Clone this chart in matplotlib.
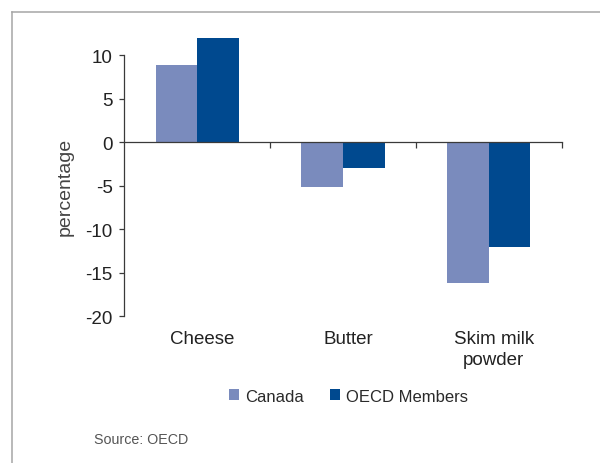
import matplotlib
matplotlib.use("Agg")
import matplotlib.pyplot as plt
from matplotlib.patches import Patch
from matplotlib.lines import Line2D
from matplotlib.transforms import blended_transform_factory
import numpy as np

plt.rcParams['font.family'] = ['Liberation Sans', 'DejaVu Sans']

categories = ["Cheese", "Butter", "Skim milk\npowder"]
series_names = ["Canada", "OECD Members"]
canada = [8.9, -5.1, -16.2]
oecd = [12.0, -3.0, -12.0]
yticks = [-20, -15, -10, -5, 0, 5, 10]

col_canada = "#7A8BBD"
col_oecd = "#00498F"
text_col = "#222222"
spine_col = "#3a3a3a"

W, H = 600, 464
fig = plt.figure(figsize=(W / 100, H / 100), dpi=100)

# axes box in pixel terms
left, right = 124.3, 561.7
top, bottom = 36.3, 317.3
ax = fig.add_axes([left / W, 1 - bottom / H, (right - left) / W, (bottom - top) / H])

x = np.arange(len(categories))
bw = 0.285
ax.bar(x - bw / 2, canada, width=bw, color=col_canada, zorder=1)
ax.bar(x + bw / 2, oecd, width=bw, color=col_oecd, zorder=1)

ax.set_xlim(-0.5, 2.5)
ax.set_ylim(-20, 12.3)

for s in ["top", "right"]:
    ax.spines[s].set_visible(False)
ax.spines["left"].set_bounds(-20, 10)
ax.spines["bottom"].set_position(("data", 0))
for s in ["left", "bottom"]:
    ax.spines[s].set_color(spine_col)
    ax.spines[s].set_linewidth(0.9)
    ax.spines[s].set_zorder(3)

ax.set_yticks(yticks)
ax.set_yticklabels([str(v) for v in yticks])
ax.tick_params(axis="y", direction="out", length=3.8, width=0.9, color=spine_col,
               labelsize=13.5, labelcolor=text_col, pad=4.5)
ax.set_xticks([0.5, 1.5, 2.5])
ax.set_xticklabels([])
ax.tick_params(axis="x", direction="out", length=4, width=0.9, color=spine_col)

# category names below the plot area
trans = blended_transform_factory(ax.transData, fig.transFigure)
for xi, name in zip(x, categories):
    fig.text(xi + 0.035, 1 - 331.5 / H, name, transform=trans, ha="center", va="top",
             fontsize=13.5, color=text_col, linespacing=1.3)

fig.text(65 / W, 1 - 187 / H, "percentage", rotation=90, ha="center", va="center",
         fontsize=14, color="#444444")

handles = [Patch(facecolor=col_canada, edgecolor="none"),
           Patch(facecolor=col_oecd, edgecolor="none")]
fig.legend(handles, series_names, loc="center", bbox_to_anchor=(348.4 / W, 1 - 397 / H),
           ncol=2, frameon=False, fontsize=12, handlelength=0.62, handleheight=0.68,
           handletextpad=0.35, columnspacing=1.55, labelcolor="#2a2a2a")

fig.text(94 / W, 1 - 444.3 / H, "Source: OECD", ha="left", va="baseline",
         fontsize=10.3, color="#555555")

# outer frame lines
frame_col = "#a6a6a6"
fig.add_artist(Line2D([11.7 / W, 1.0], [1 - 12.7 / H, 1 - 12.7 / H], color=frame_col,
                      linewidth=1.1, transform=fig.transFigure))
fig.add_artist(Line2D([11.7 / W, 11.7 / W], [0.0, 1 - 12.7 / H], color=frame_col,
                      linewidth=1.1, transform=fig.transFigure))

fig.savefig("out.png", dpi=100)
